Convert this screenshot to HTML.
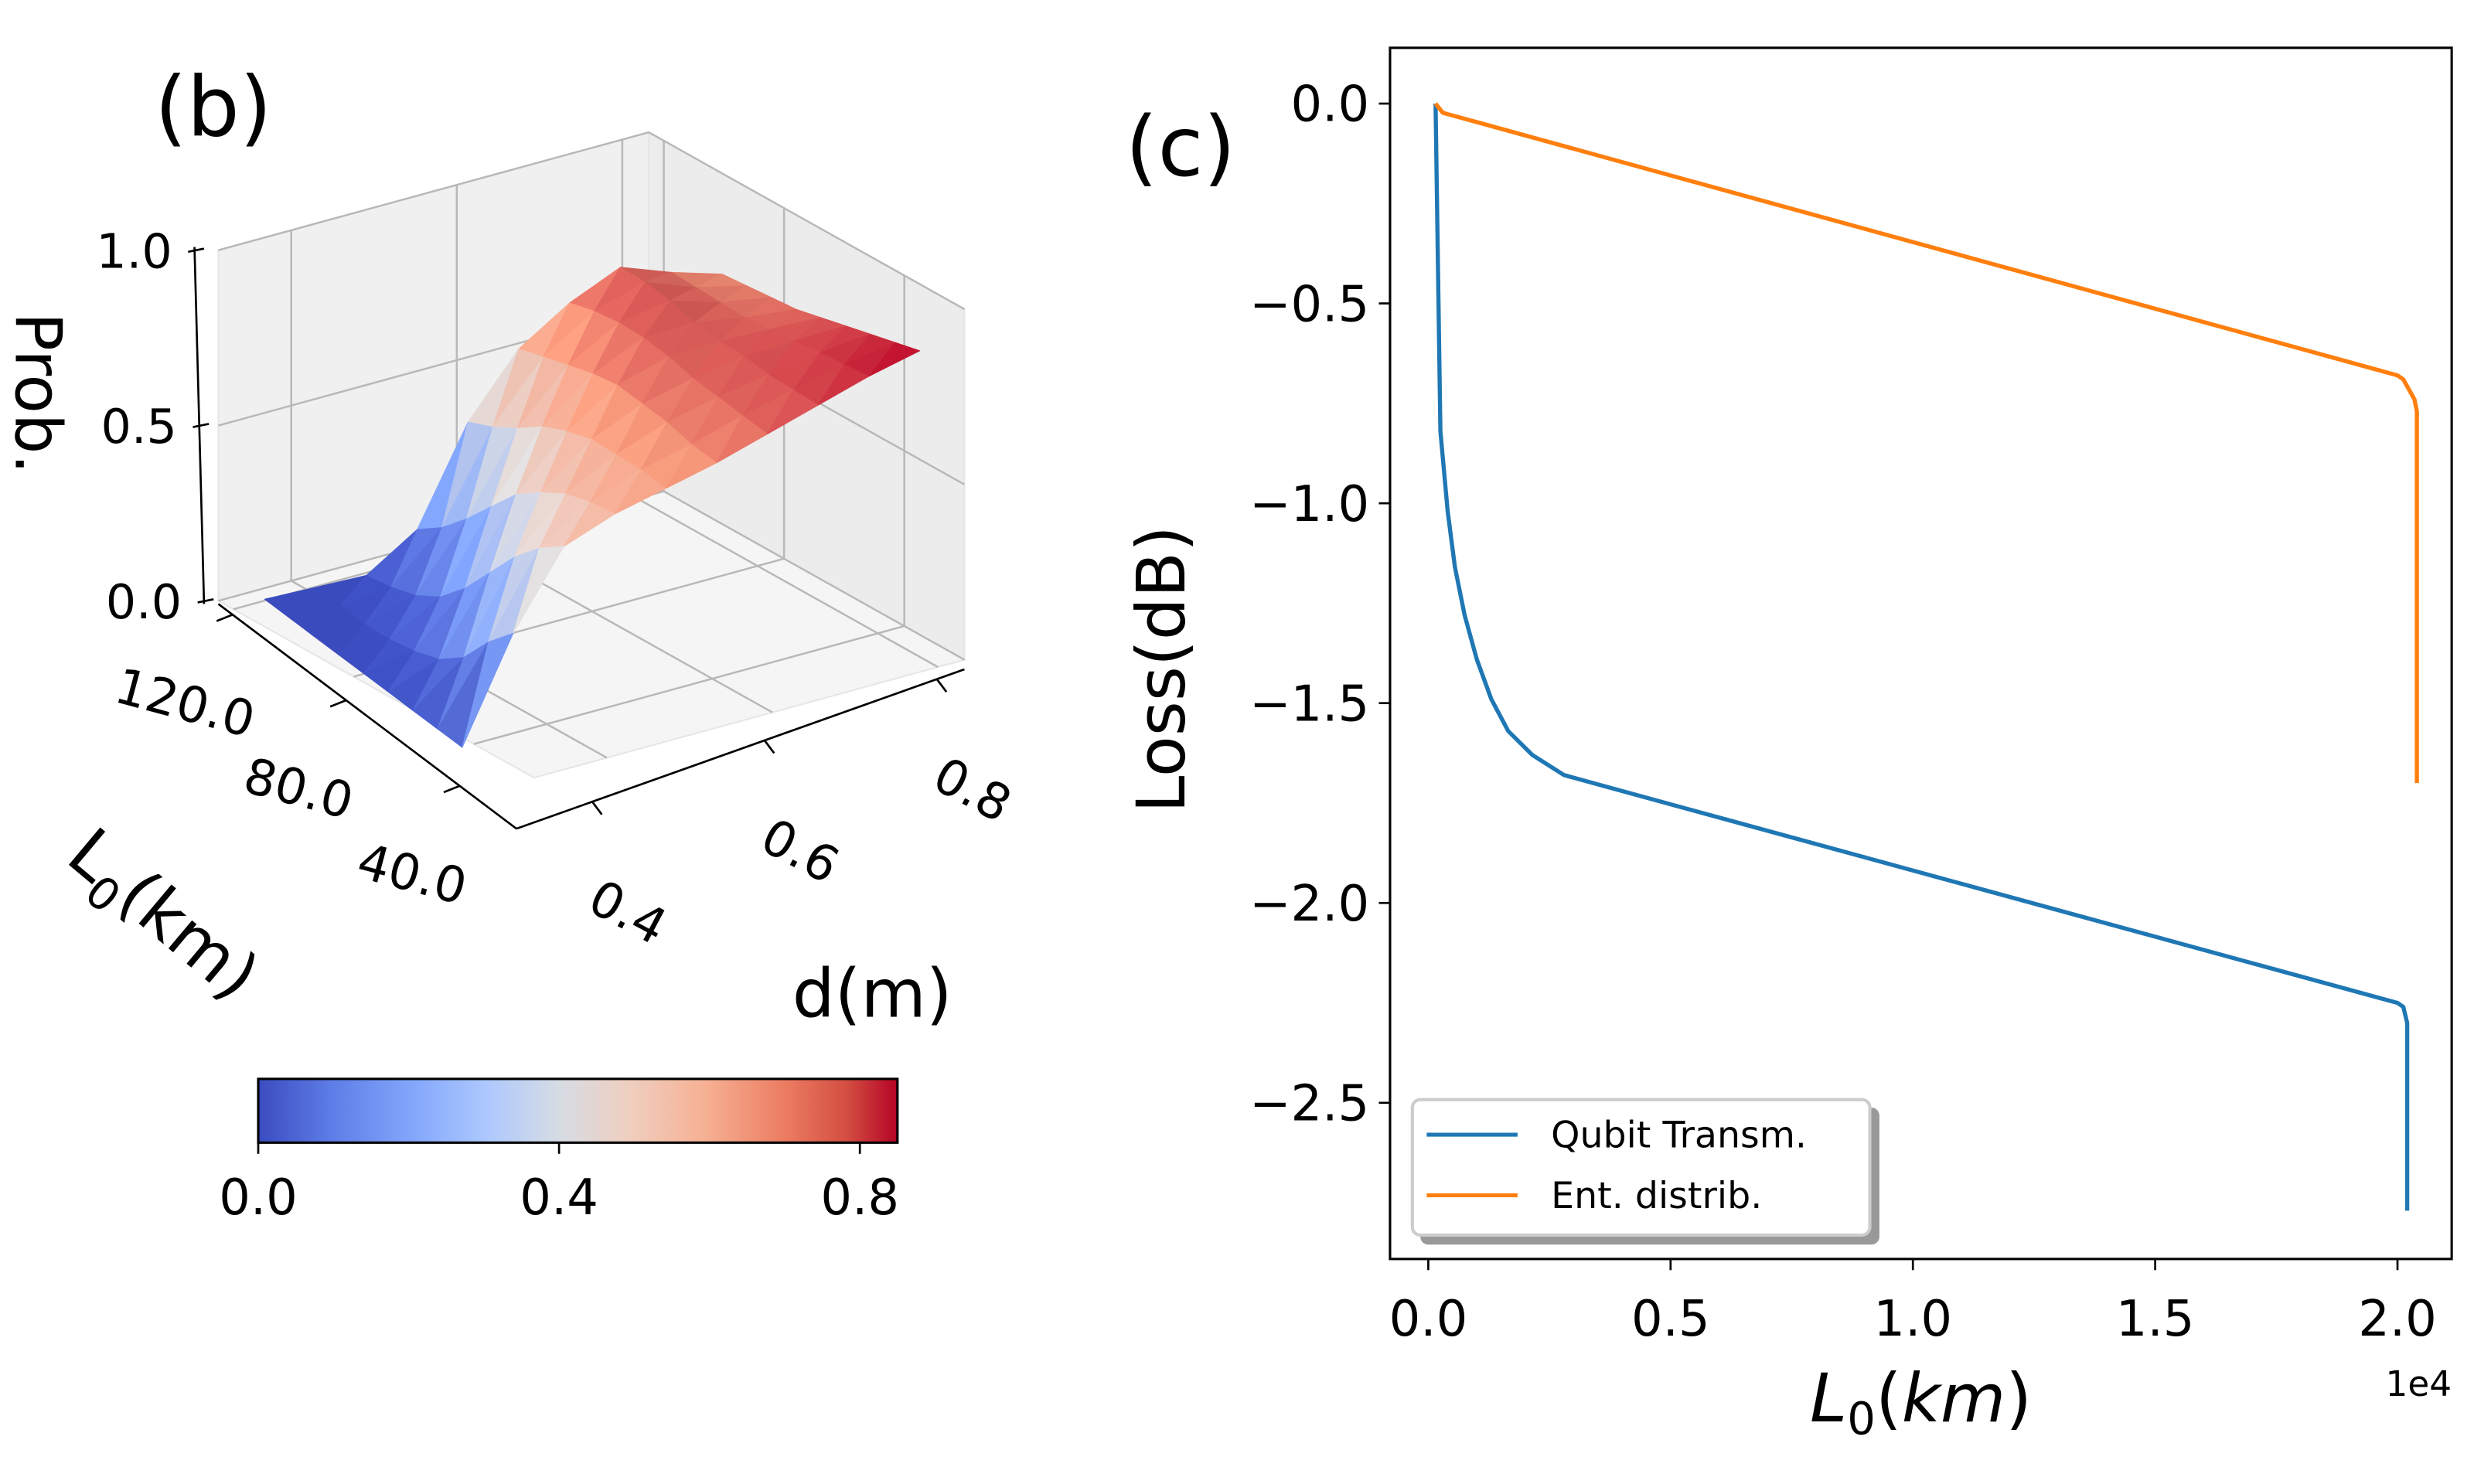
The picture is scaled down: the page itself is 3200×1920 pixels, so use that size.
<!DOCTYPE html>
<html><head><meta charset="utf-8"><style>
html,body{margin:0;padding:0;background:#fff;}
svg{display:block;}
text{font-family:"DejaVu Sans","Liberation Sans",sans-serif;fill:#000;}
</style></head><body>
<svg id="fig" width="3200" height="1920" viewBox="0 0 1552 931.2" xmlns="http://www.w3.org/2000/svg">
<defs>
<linearGradient id="cbg" x1="0" x2="1" y1="0" y2="0">
<stop offset="0" stop-color="#3b4cc0"/><stop offset="0.12" stop-color="#5f7fe8"/><stop offset="0.25" stop-color="#86a9fc"/><stop offset="0.36" stop-color="#aec9fd"/><stop offset="0.47" stop-color="#d6dce4"/><stop offset="0.58" stop-color="#efcfbf"/><stop offset="0.7" stop-color="#f6b093"/><stop offset="0.82" stop-color="#ec7e63"/><stop offset="0.92" stop-color="#d44e41"/><stop offset="1" stop-color="#b40426"/>
</linearGradient>
</defs>
<g id="left"></g>
<g id="right"></g>
</svg>
<script>
// ---------- 3D surface data ----------
const dVals = [0.35,0.40,0.45,0.50,0.55,0.60,0.65,0.70,0.75,0.80];
const LVals = [40,50,60,70,80,90,100,110,120];
const probRows = [
 [0.00,0.30,0.52,0.58,0.62,0.66,0.71,0.76,0.81,0.85],
 [0.00,0.22,0.46,0.56,0.62,0.66,0.71,0.75,0.79,0.82],
 [0.00,0.12,0.38,0.53,0.61,0.67,0.71,0.74,0.77,0.79],
 [0.00,0.06,0.28,0.48,0.60,0.67,0.71,0.74,0.75,0.76],
 [0.00,0.03,0.18,0.42,0.57,0.67,0.72,0.73,0.73,0.73],
 [0.00,0.01,0.10,0.33,0.53,0.65,0.72,0.73,0.71,0.70],
 [0.00,0.00,0.05,0.24,0.47,0.62,0.71,0.74,0.70,0.68],
 [0.00,0.00,0.02,0.16,0.42,0.59,0.69,0.74,0.69,0.66],
 [0.00,0.00,0.00,0.10,0.38,0.56,0.66,0.73,0.68,0.64]
];
const zTicks = [0.0,0.5,1.0];
const LTicks = [40,80,120];
const dTicks = [0.4,0.6,0.8];
const cbTicks = [0.0,0.4,0.8];
// ---------- line chart data ----------
const qubitX = [0.015,0.025,0.04,0.055,0.075,0.10,0.13,0.165,0.215,0.28,0.40,2.0,2.012,2.02,2.02];
const qubitY = [0,-0.82,-1.02,-1.16,-1.28,-1.39,-1.49,-1.57,-1.63,-1.68,-1.72,-2.25,-2.26,-2.3,-2.77];
const entX = [0.015,0.03,2.0,2.012,2.035,2.04,2.04];
const entY = [0,-0.023,-0.68,-0.69,-0.74,-0.77,-1.7];
const xTicks = [0.0,0.5,1.0,1.5,2.0];
const yTicks = [0.0,-0.5,-1.0,-1.5,-2.0,-2.5];

const NS="http://www.w3.org/2000/svg";
function mk(tag,attrs,parent){const e=document.createElementNS(NS,tag);for(const k in attrs)e.setAttribute(k,attrs[k]);parent.appendChild(e);return e;}

// ---------- 3D box projection ----------
const L=document.getElementById('left');
const G0=[335,488], ED=[270,-74], EL=[-198,-111], EZ=[0,-220];
const dMin=0.312,dMax=0.832,LMin=20,LMax=125;
function P(d,l,z){const u=(d-dMin)/(dMax-dMin), v=(l-LMin)/(LMax-LMin);
 return [G0[0]+u*ED[0]+v*EL[0]+z*EZ[0], G0[1]+u*ED[1]+v*EL[1]+z*EZ[1]];}
function S(d,l,z){const u=(d-0.35)/0.45, v=(l-40)/80;
 return [290+u*287-v*124, 469-u*67-v*93-z*214];}
function pts(a){return a.map(p=>p[0].toFixed(1)+','+p[1].toFixed(1)).join(' ');}
let p=mk('polygon',{points:pts([P(dMin,LMax,0),P(dMax,LMax,0),P(dMax,LMax,1.0),P(dMin,LMax,1.0)]),fill:'#f0f0f0',stroke:'#e6e6e6'},L);

p=mk('polygon',{points:pts([P(dMax,LMin,0),P(dMax,LMax,0),P(dMax,LMax,1.0),P(dMax,LMin,1.0)]),fill:'#ececec',stroke:'#e6e6e6'},L);

p=mk('polygon',{points:pts([P(dMin,LMin,0),P(dMax,LMin,0),P(dMax,LMax,0),P(dMin,LMax,0)]),fill:'#f5f5f5',stroke:'#e6e6e6'},L);

function gl(a,b,name){const l=mk('line',{x1:a[0],y1:a[1],x2:b[0],y2:b[1],stroke:'#b8b8b8','stroke-width':1.2},L);
 }
zTicks.forEach(z=>{gl(P(dMin,LMax,z),P(dMax,LMax,z),'z-gridline');gl(P(dMax,LMax,z),P(dMax,LMin,z),'z-gridline');});
dTicks.forEach(d=>{gl(P(d,LMin,0),P(d,LMax,0),'d-gridline');gl(P(d,LMax,0),P(d,LMax,1.0),'d-gridline');});
LTicks.forEach(l=>{gl(P(dMin,l,0),P(dMax,l,0),'L-gridline');gl(P(dMax,l,0),P(dMax,l,1.0),'L-gridline');});
const cmS=[[0,[59,76,192]],[0.25,[130,165,251]],[0.5,[221,220,220]],[0.75,[244,154,123]],[1,[180,4,38]]];
function cmapRGB(t){t=Math.max(0,Math.min(1,t));for(let i=1;i<cmS.length;i++){if(t<=cmS[i][0]){const a=cmS[i-1],b=cmS[i],f=(t-a[0])/(b[0]-a[0]);
 return a[1].map((c,k)=>c+(b[1][k]-c)*f);}}return [180,4,38];}
function shadeCol(rgb,s){return 'rgb('+rgb.map(c=>Math.round(Math.max(0,Math.min(255,c*s)))).join(',')+')';}
const tris=[];
for(let i=0;i<LVals.length-1;i++)for(let j=0;j<dVals.length-1;j++){
 const c=[[j,i],[j+1,i],[j+1,i+1],[j,i+1]];
 [[c[0],c[1],c[2]],[c[0],c[2],c[3]]].forEach(t=>{
  const depth=t.reduce((s,q)=>s+(dVals[q[0]]-0.35)/0.45+(LVals[q[1]]-40)/80,0)/3;
  tris.push({t,depth});});}
tris.sort((a,b)=>b.depth-a.depth);
const sg=mk('g',{},L);
tris.forEach(o=>{
 const v3=o.t.map(q=>[(dVals[q[0]]-0.35)/0.45,(LVals[q[1]]-40)/80,probRows[q[1]][q[0]]]);
 const a=[v3[1][0]-v3[0][0],v3[1][1]-v3[0][1],v3[1][2]-v3[0][2]], b=[v3[2][0]-v3[0][0],v3[2][1]-v3[0][1],v3[2][2]-v3[0][2]];
 let n=[a[1]*b[2]-a[2]*b[1],a[2]*b[0]-a[0]*b[2],a[0]*b[1]-a[1]*b[0]];
 if(n[2]<0)n=n.map(x=>-x);
 const nl=Math.hypot(n[0],n[1],n[2])||1;
 const lt=[-0.5,0.5,0.7071];
 const dot=(n[0]*lt[0]+n[1]*lt[1]+n[2]*lt[2])/nl;
 const s=0.82+0.24*dot;
 const avg=(v3[0][2]+v3[1][2]+v3[2][2])/3;
 const col=shadeCol(cmapRGB(avg/0.85),s);
 const sc=o.t.map(q=>S(dVals[q[0]],LVals[q[1]],probRows[q[1]][q[0]]));
 const f=mk('polygon',{points:pts(sc),fill:col,stroke:col,'stroke-width':0.5,'stroke-linejoin':'round'},sg);
 });
function al(a,b,name){const l=mk('line',{x1:a[0],y1:a[1],x2:b[0],y2:b[1],stroke:'#000','stroke-width':1.3},L);
 }
const zA=[P(dMin,LMax,0)[0]-9,P(dMin,LMax,0)[1]+2];
al([zA[0],zA[1]],[zA[0]-6,155],'z-axis-line');
zTicks.forEach(z=>{const y=377-z*220;al([zA[0]-6*z-4,y+1],[zA[0]-6*z+6,y-1],'z-tick');
 const t=mk('text',{x:zA[0]-14-6*z,y:y+11,'font-size':30,'text-anchor':'end'},L);t.textContent=z.toFixed(1);
 });
const lA0=[137,379],lA1=[324,520];
al(lA0,lA1,'L0-axis-line');
LTicks.forEach(l=>{const v=(l-LMin)/(LMax-LMin);const x=lA1[0]+(lA0[0]-lA1[0])*v, y=lA1[1]+(lA0[1]-lA1[1])*v;
 al([x,y],[x-10,y+4],'L0-tick');
 const t=mk('text',{x:x-30,y:y+66,'font-size':31,'text-anchor':'middle',transform:'rotate(15 '+(x-30)+' '+(y+56)+')'},L);t.textContent=l.toFixed(1);
 });
const dA0=[324,520],dA1=[605,420];
al(dA0,dA1,'d-axis-line');
dTicks.forEach(d=>{const u=(d-dMin)/(dMax-dMin);const x=dA0[0]+(dA1[0]-dA0[0])*u, y=dA0[1]+(dA1[1]-dA0[1])*u;
 al([x,y],[x+6,y+8],'d-tick');
 const t=mk('text',{x:x+22,y:y+80,'font-size':31,'text-anchor':'middle',transform:'rotate(28 '+(x+22)+' '+(y+70)+')'},L);t.textContent=d.toFixed(1);
 });
const cb=mk('rect',{x:162,y:677,width:401,height:40,fill:'url(#cbg)',stroke:'#000','stroke-width':1.5},L);

cbTicks.forEach(v=>{const x=162+401*v/0.85;al([x,717],[x,724],'colorbar-tick');
 const t=mk('text',{x:x,y:762,'font-size':31,'text-anchor':'middle'},L);t.textContent=v.toFixed(1);
 });

// ---------- right line chart ----------
const R=document.getElementById('right');
const ax={l:872,r:1538,t:30,b:790};
function X(v){return 896+v*304;}
function Y(v){return 65-v*250.8;}
const fr=mk('rect',{x:ax.l,y:ax.t,width:ax.r-ax.l,height:ax.b-ax.t,fill:'#fff',stroke:'#000','stroke-width':1.5},R);

xTicks.forEach(v=>{const x=X(v);const l=mk('line',{x1:x,y1:ax.b,x2:x,y2:ax.b+7,stroke:'#000','stroke-width':1.3},R);
 
 const t=mk('text',{x:x,y:838,'font-size':31,'text-anchor':'middle'},R);t.textContent=v.toFixed(1);
 });
yTicks.forEach(v=>{const y=Y(v);const l=mk('line',{x1:ax.l-7,y1:y,x2:ax.l,y2:y,stroke:'#000','stroke-width':1.3},R);
 
 const t=mk('text',{x:ax.l-13,y:y+11,'font-size':31,'text-anchor':'end'},R);t.textContent=(v===0?'0.0':'\u2212'+Math.abs(v).toFixed(1));
 });
function line(xs,ys,col,name){const d=xs.map((x,i)=>(i?'L':'M')+X(x).toFixed(2)+','+Y(ys[i]).toFixed(2)).join('');
 const p=mk('path',{d:d,fill:'none',stroke:col,'stroke-width':2.6,'stroke-linejoin':'round'},R);
 }
line(qubitX,qubitY,'#1f77b4','qubit-transm-line');
line(entX,entY,'#ff7f0e','ent-distrib-line');
</script>
<script>
const F=document.getElementById('fig');
function addText(x,y,s,size,name,extra){const t=document.createElementNS("http://www.w3.org/2000/svg",'text');
 t.setAttribute('x',x);t.setAttribute('y',y);t.setAttribute('font-size',size);
 for(const k in (extra||{}))t.setAttribute(k,extra[k]);
 t.textContent=s;F.appendChild(t);
 
 return t;}
addText(97,85,'(b)',52,'panel-b-label');
addText(706,110,'(c)',52,'panel-c-label');
addText(10,196,'Prob.',40,'z-axis-title',{transform:'rotate(90 10 196)'});
addText(497,638,'d(m)',42,'d-axis-title');
const lt=addText(40,540,'',42,'L0-axis-title',{transform:'rotate(40 40 540)'});
lt.innerHTML='L<tspan font-size="28" dy="10">0</tspan><tspan dy="-10">(km)</tspan>';
addText(743,420,'Loss(dB)',42,'y-axis-title',{transform:'rotate(-90 743 420)','text-anchor':'middle'});
const xl=addText(1205,892,'',42,'x-axis-title',{'text-anchor':'middle','font-style':'italic'});
xl.innerHTML='L<tspan font-size="28" dy="8" font-style="normal">0</tspan><tspan dy="-8" font-style="normal">(</tspan>km<tspan font-style="normal">)</tspan>';
addText(1538,876,'1e4',22,'x-offset-label',{'text-anchor':'end'});
const NS2="http://www.w3.org/2000/svg";
const lg=document.createElementNS(NS2,'g');F.appendChild(lg);


lg.innerHTML='<rect x="891" y="695" width="288" height="86" rx="5" fill="#999"/>'+
'<rect x="886" y="690" width="287" height="85" rx="5" fill="#fff" stroke="#ccc" stroke-width="2"/>'+
'<line x1="895" y1="712" x2="952" y2="712" stroke="#1f77b4" stroke-width="2.5"/>'+
'<line x1="895" y1="750" x2="952" y2="750" stroke="#ff7f0e" stroke-width="2.5"/>'+
'<text x="973" y="720" font-size="23">Qubit Transm.</text>'+
'<text x="973" y="758" font-size="23">Ent. distrib.</text>';
</script>
</body></html>
